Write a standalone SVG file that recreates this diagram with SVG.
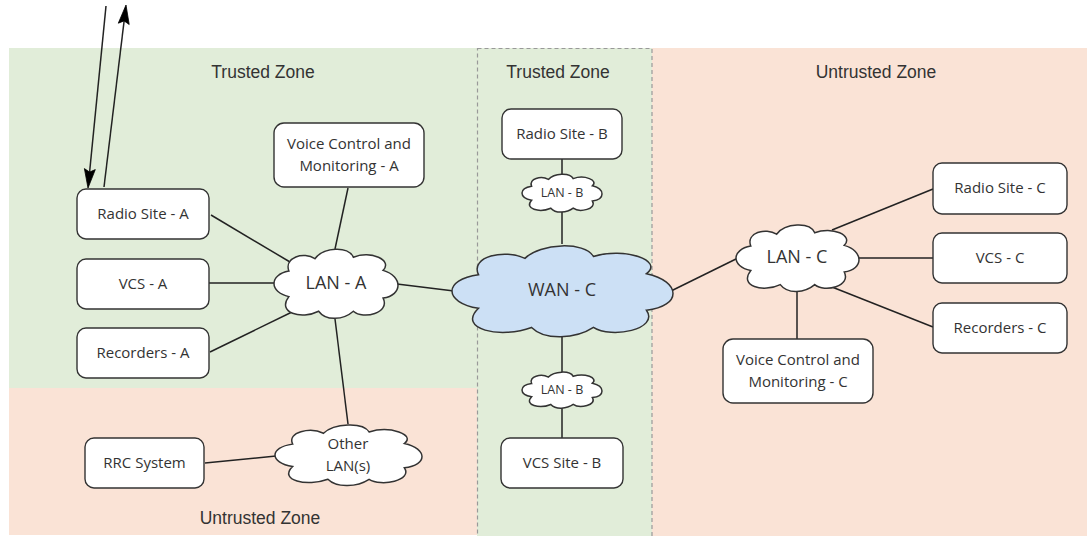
<svg xmlns="http://www.w3.org/2000/svg" xmlns:xlink="http://www.w3.org/1999/xlink" width="1087" height="536" viewBox="0 0 1087 536">
<style>
.zone{font-family:"Liberation Sans",Arial,sans-serif;font-size:17.5px;fill:#333;text-anchor:middle}
.box{fill:#fff;stroke:#333;stroke-width:1.4}
.lbl{font-family:"Open Sans","Noto Sans",sans-serif;font-size:15px;fill:#333;text-anchor:middle}
.big{font-family:"Open Sans","Noto Sans",sans-serif;font-size:18px;fill:#333;text-anchor:middle}
.small{font-family:"Open Sans","Noto Sans",sans-serif;font-size:12.5px;fill:#333;text-anchor:middle}
.cl{stroke:#333;stroke-width:1.5;vector-effect:non-scaling-stroke}
.conn line{stroke:#222;stroke-width:1.5}
.head{fill:#000;stroke:#000;stroke-width:0.8}
</style>
<defs>
<path id="cloud" class="cl" d="M12,33 C8,14 24,6 33,16 C40,0 60,-2 64,14 C78,4 96,18 88,32 C104,40 104,66 88,70 C94,90 72,100 64,88 C56,100 42,102 36,88 C22,100 2,90 12,68 C-4,62 -4,38 12,33 Z"/>
</defs>
<g id="zones">
<rect x="9" y="48" width="468" height="340" fill="#e1edd9"/>
<rect x="9" y="388" width="468" height="147" fill="#fae3d6"/>
<rect x="477" y="48" width="175" height="488" fill="#e1edd9"/>
<rect x="652" y="48" width="435" height="488" fill="#fae3d6"/>
<rect x="477.5" y="48.5" width="174.5" height="488" fill="none" stroke="#999" stroke-width="1.2" stroke-dasharray="4,3"/>
<text class="zone" x="263" y="78">Trusted Zone</text>
<text class="zone" x="558" y="78">Trusted Zone</text>
<text class="zone" x="876" y="78">Untrusted Zone</text>
<text class="zone" x="260" y="524">Untrusted Zone</text>
</g>
<g id="connectors" class="conn">
<line x1="211" y1="215" x2="290" y2="262"/>
<line x1="209" y1="283" x2="275" y2="283"/>
<line x1="210" y1="352" x2="292" y2="312"/>
<line x1="348" y1="188" x2="335" y2="249"/>
<line x1="335" y1="319" x2="348" y2="424"/>
<line x1="205" y1="463" x2="276" y2="456"/>
<line x1="397" y1="284" x2="454" y2="291"/>
<line x1="562" y1="159" x2="562" y2="175"/>
<line x1="562" y1="212" x2="562" y2="244"/>
<line x1="562" y1="337" x2="562" y2="373"/>
<line x1="562" y1="408" x2="562" y2="438"/>
<line x1="671" y1="291" x2="738" y2="258"/>
<line x1="832" y1="230" x2="933" y2="189"/>
<line x1="858" y1="258" x2="933" y2="258"/>
<line x1="832" y1="287" x2="933" y2="327"/>
<line x1="797" y1="291" x2="797" y2="339"/>
<line x1="106" y1="6" x2="89.6" y2="172"/>
<polygon class="head" points="88,188 95.3,169.6 89.6,172.1 84.4,168.6"/>
<line x1="104" y1="187" x2="124.1" y2="21"/>
<polygon class="head" points="126,5 129.2,24.5 124.1,20.9 118.3,23.2"/>
</g>
<g id="radio-site-a"><rect class="box" x="77" y="189" width="132" height="50" rx="9"/><text class="lbl" x="143" y="219">Radio Site - A</text></g>
<g id="vcs-a"><rect class="box" x="77" y="259" width="132" height="50" rx="9"/><text class="lbl" x="143" y="289">VCS - A</text></g>
<g id="recorders-a"><rect class="box" x="77" y="328" width="132" height="50" rx="9"/><text class="lbl" x="143" y="358">Recorders - A</text></g>
<g id="vcm-a"><rect class="box" x="274" y="123" width="150" height="64" rx="10"/><text class="lbl" x="349" y="149">Voice Control and</text><text class="lbl" x="349" y="171">Monitoring - A</text></g>
<g id="rrc"><rect class="box" x="85" y="438" width="119" height="50" rx="9"/><text class="lbl" x="144.5" y="468">RRC System</text></g>
<g id="lan-a"><use xlink:href="#cloud" fill="#fff" transform="translate(274,247) scale(1.24,0.73)"/><text class="big" x="336" y="289">LAN - A</text></g>
<g id="other-lans"><use xlink:href="#cloud" fill="#fff" transform="translate(275,423) scale(1.47,0.64)"/><text class="lbl" x="348" y="449">Other</text><text class="lbl" x="348" y="471">LAN(s)</text></g>
<g id="radio-site-b"><rect class="box" x="502" y="109" width="120" height="50" rx="9"/><text class="lbl" x="562" y="139">Radio Site - B</text></g>
<g id="lan-b-top"><use xlink:href="#cloud" fill="#fff" transform="translate(522,173) scale(0.8,0.4)"/><text class="small" x="562" y="197">LAN - B</text></g>
<g id="wan-c"><use xlink:href="#cloud" fill="#cce0f5" transform="translate(452,243) scale(2.21,0.96)"/><text class="big" x="562" y="296">WAN - C</text></g>
<g id="lan-b-bottom"><use xlink:href="#cloud" fill="#fff" transform="translate(522,371) scale(0.8,0.38)"/><text class="small" x="562" y="394">LAN - B</text></g>
<g id="vcs-site-b"><rect class="box" x="501" y="438" width="122" height="50" rx="9"/><text class="lbl" x="562" y="468">VCS Site - B</text></g>
<g id="lan-c"><use xlink:href="#cloud" fill="#fff" transform="translate(736,223) scale(1.23,0.70)"/><text class="big" x="797" y="263">LAN - C</text></g>
<g id="radio-site-c"><rect class="box" x="933" y="163" width="134" height="51" rx="9"/><text class="lbl" x="1000" y="193">Radio Site - C</text></g>
<g id="vcs-c"><rect class="box" x="933" y="233" width="134" height="50" rx="9"/><text class="lbl" x="1000" y="263">VCS - C</text></g>
<g id="recorders-c"><rect class="box" x="933" y="303" width="134" height="50" rx="9"/><text class="lbl" x="1000" y="333">Recorders - C</text></g>
<g id="vcm-c"><rect class="box" x="723" y="339" width="150" height="64" rx="10"/><text class="lbl" x="798" y="365">Voice Control and</text><text class="lbl" x="798" y="387">Monitoring - C</text></g>
</svg>
